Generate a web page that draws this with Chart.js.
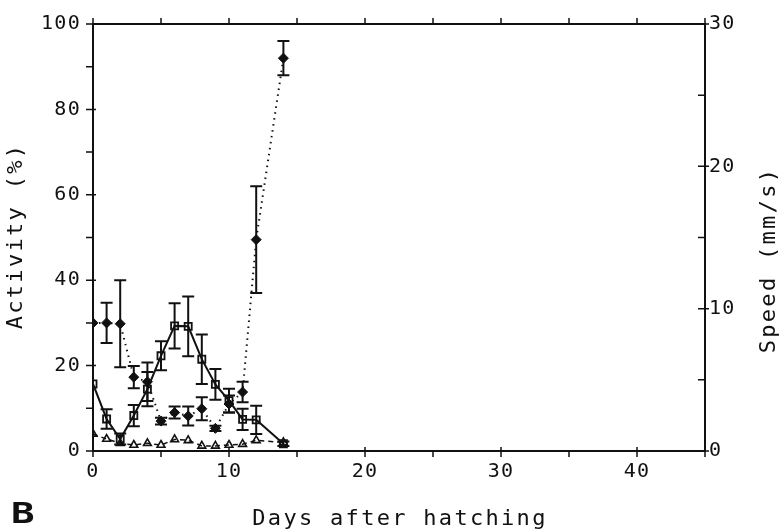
<!DOCTYPE html>
<html>
<head>
<meta charset="utf-8">
<script src="https://cdn.jsdelivr.net/npm/chart.js@4.4.1/dist/chart.umd.min.js"></script>
<style>
  html, body { margin: 0; padding: 0; background: #fff; }
  #wrap { width: 781px; height: 532px; }
</style>
</head>
<body>
<div id="wrap"><canvas id="c" width="781" height="532"></canvas></div>
<script>
// Days after hatching, activity series.
const DAYS = [0, 1, 2, 3, 4, 5, 6, 7, 8, 9, 10, 11, 12, 14];

// open squares, solid line
const SQUARE     = [15.7, 7.5, 2.8, 8.3, 14.5, 22.3, 29.3, 29.2, 21.5, 15.6, 11.8, 7.4, 7.3, 1.7];
const SQUARE_ERR = [0, 2.3, 1.3, 2.5, 4.0, 3.4, 5.3, 7.0, 5.8, 3.6, 2.8, 2.5, 3.3, 0.5];

// filled diamonds, dotted line
const DIAMOND     = [30, 30, 29.8, 17.3, 16.2, 7.0, 9.0, 8.2, 9.9, 5.3, 11.0, 13.8, 49.5, 92];
const DIAMOND_ERR = [0, 4.7, 10.2, 2.6, 4.5, 0.8, 1.4, 2.2, 2.7, 0.6, 2.0, 2.4, 12.5, 4.0];

// open triangles, dashed line
const TRIANGLE = [4.0, 2.8, 1.8, 1.4, 1.8, 1.4, 2.7, 2.5, 1.2, 1.2, 1.4, 1.6, 2.5, 2.0];

const X_TICKS = [0, 10, 20, 30, 40];
const INK = "#111";
const FONT = '"DejaVu Sans Mono", "Liberation Mono", monospace';

const pts = (ys) => DAYS.map((d, i) => ({ x: d, y: ys[i] }));

// Error bars drawn under the markers, through the chart's own scales.
const errorBars = {
  id: "errorBars",
  beforeDatasetsDraw(chart) {
    const { ctx, scales: { x, y } } = chart;
    const sets = [[SQUARE, SQUARE_ERR], [DIAMOND, DIAMOND_ERR]];
    ctx.save();
    ctx.strokeStyle = INK;
    ctx.lineWidth = 2;
    for (const [vals, errs] of sets) {
      DAYS.forEach((d, i) => {
        if (!errs[i]) return;
        const px = x.getPixelForValue(d);
        const top = y.getPixelForValue(vals[i] + errs[i]);
        const bot = y.getPixelForValue(vals[i] - errs[i]);
        ctx.beginPath();
        ctx.moveTo(px, top); ctx.lineTo(px, bot);
        ctx.moveTo(px - 6, top); ctx.lineTo(px + 6, top);
        ctx.moveTo(px - 6, bot); ctx.lineTo(px + 6, bot);
        ctx.stroke();
      });
    }
    ctx.restore();
  },
};

// Box frame, tick marks, titles and panel letter.
const frame = {
  id: "frame",
  beforeDraw(chart) {
    chart.ctx.letterSpacing = "1.3px";
  },
  afterDraw(chart) {
    const { ctx, chartArea: a, scales: { x, y, y1 } } = chart;
    ctx.save();
    ctx.strokeStyle = INK;
    ctx.lineWidth = 2;
    ctx.strokeRect(a.left, a.top, a.right - a.left, a.bottom - a.top);
    ctx.lineWidth = 1.5;
    ctx.beginPath();
    for (let v = 0; v <= 100; v += 10) {
      const py = y.getPixelForValue(v);
      ctx.moveTo(a.left - 7, py); ctx.lineTo(a.left + (v % 20 === 0 ? 3 : 0), py);
    }
    for (let v = 0; v <= 30; v += 5) {
      const py = y1.getPixelForValue(v);
      ctx.moveTo(a.right - 7, py); ctx.lineTo(a.right + (v % 10 === 0 ? 4 : 0), py);
    }
    for (let v = 0; v <= 45; v += 5) {
      const px = x.getPixelForValue(v);
      ctx.moveTo(px, a.bottom - (v % 10 === 0 ? 4 : 0)); ctx.lineTo(px, a.bottom + 6);
      ctx.moveTo(px, a.top - 6); ctx.lineTo(px, a.top);
    }
    ctx.stroke();

    ctx.fillStyle = INK;
    ctx.letterSpacing = "2.3px";
    ctx.font = `22px ${FONT}`;
    ctx.textAlign = "center";
    ctx.textBaseline = "middle";
    ctx.fillText("Days after hatching", 400, 519);
    ctx.save();
    ctx.translate(16, 236);
    ctx.rotate(-Math.PI / 2);
    ctx.fillText("Activity (%)", 0, 0);
    ctx.restore();
    ctx.save();
    ctx.translate(769, 260);
    ctx.rotate(-Math.PI / 2);
    ctx.fillText("Speed (mm/s)", 0, 0);
    ctx.restore();
    ctx.letterSpacing = "0px";
    ctx.font = `bold 28px ${FONT}`;
    ctx.textAlign = "left";
    ctx.save();
    ctx.translate(11, 516);
    ctx.scale(1.4, 1);
    ctx.fillText("B", 0, 0);
    ctx.restore();
    ctx.restore();
  },
};

const tickFont = { family: FONT, size: 20 };

new Chart(document.getElementById("c"), {
  type: "line",
  data: {
    datasets: [
      {
        label: "squares",
        data: pts(SQUARE),
        borderColor: INK, borderWidth: 2,
        pointStyle: "rect", pointRadius: 5,
        pointBackgroundColor: "rgba(0,0,0,0)", pointBorderColor: INK, pointBorderWidth: 1.8,
        yAxisID: "y",
      },
      {
        label: "diamonds",
        data: pts(DIAMOND),
        borderColor: INK, borderWidth: 2, borderDash: [1.5, 4.5],
        pointStyle: "rectRot", pointRadius: 5,
        pointBackgroundColor: INK, pointBorderColor: INK, pointBorderWidth: 1,
        yAxisID: "y",
      },
      {
        label: "triangles",
        data: pts(TRIANGLE),
        borderColor: INK, borderWidth: 1.5, borderDash: [5, 4],
        pointStyle: "triangle", pointRadius: 4.5,
        pointBackgroundColor: "rgba(0,0,0,0)", pointBorderColor: INK, pointBorderWidth: 1.6,
        yAxisID: "y",
      },
    ],
  },
  options: {
    responsive: false, animation: false,
    events: [],
    layout: { padding: { top: 16, left: 0, right: 0, bottom: 0 } },
    plugins: { legend: { display: false }, tooltip: { enabled: false } },
    scales: {
      x: {
        type: "linear", position: "bottom", min: 0, max: 45,
        afterFit: (s) => { s.height = 81; },
        grid: { display: false, drawTicks: false },
        border: { display: false },
        ticks: {
          font: tickFont, color: INK, padding: 9, autoSkip: false,
          stepSize: 10, includeBounds: false, maxRotation: 0,
          callback: (v) => (X_TICKS.includes(v) ? v : ""),
        },
      },
      y: {
        position: "left", min: 0, max: 100,
        afterFit: (s) => { s.width = 93; },
        grid: { display: false, drawTicks: false },
        border: { display: false },
        ticks: { font: tickFont, color: INK, padding: 12, stepSize: 20 },
      },
      y1: {
        position: "right", min: 0, max: 30,
        afterFit: (s) => { s.width = 76; },
        grid: { display: false, drawTicks: false },
        border: { display: false },
        ticks: { font: tickFont, color: INK, padding: 4, stepSize: 10 },
      },
    },
  },
  plugins: [errorBars, frame],
});
</script>
</body>
</html>
